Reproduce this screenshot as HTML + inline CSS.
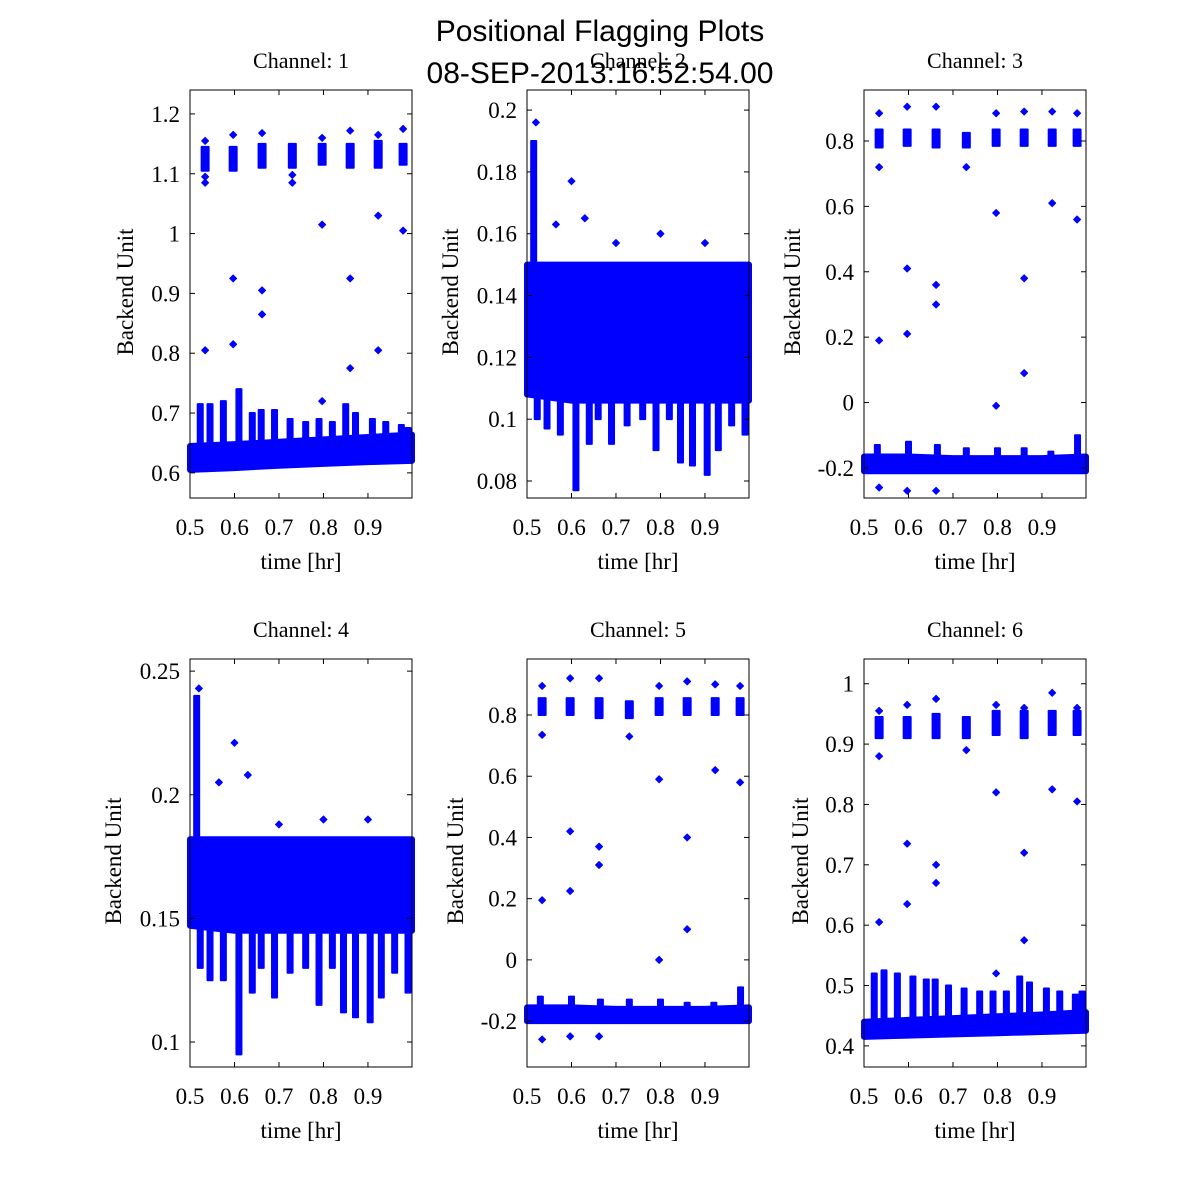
<!DOCTYPE html>
<html><head><meta charset="utf-8"><style>
html,body{margin:0;background:#fff;overflow:hidden;width:1200px;height:1200px;}
svg{display:block;}
svg text{font-family:"Liberation Serif",serif;}
</style></head><body>
<svg id="chart" width="1200" height="1200" viewBox="0 0 1200 1200" xmlns="http://www.w3.org/2000/svg">
<rect width="1200" height="1200" fill="#fff"/>
<text x="600" y="41" text-anchor="middle" font-size="30" style="font-family:'Liberation Sans',sans-serif">Positional Flagging Plots</text>
</svg>
<script>
const xTicks = [0.5, 0.6, 0.7, 0.8, 0.9];
const clusterTimes = [0.534, 0.597, 0.662, 0.730, 0.797, 0.860, 0.923, 0.979];
const bandTimes = [0.5, 0.6, 0.7, 0.8, 0.9, 0.999];

const ch1Low = [0.605, 0.608, 0.612, 0.615, 0.618, 0.620];
const ch1High = [0.645, 0.648, 0.652, 0.656, 0.660, 0.664];
const ch1SpikeT = [0.523,0.545,0.575,0.61,0.64,0.66,0.69,0.725,0.76,0.79,0.82,0.85,0.872,0.91,0.94,0.975,0.99];
const ch1SpikeV = [0.715,0.715,0.72,0.74,0.70,0.705,0.705,0.69,0.685,0.69,0.685,0.715,0.70,0.69,0.685,0.68,0.675];
const ch1ClLow = [1.105,1.105,1.11,1.11,1.115,1.11,1.11,1.115];
const ch1ClHigh = [1.145,1.145,1.15,1.15,1.15,1.15,1.155,1.15];
const ch1OutT = [0.534,0.534,0.534,0.534,0.597,0.597,0.597,0.662,0.662,0.662,0.730,0.730,0.797,0.797,0.797,0.860,0.860,0.860,0.923,0.923,0.923,0.979,0.979];
const ch1OutV = [1.155,1.095,1.085,0.805,1.165,0.925,0.815,1.168,0.905,0.865,1.098,1.085,1.160,1.015,0.720,1.172,0.925,0.775,1.165,1.030,0.805,1.175,1.005];

const ch2Low = [0.108, 0.106, 0.106, 0.106, 0.106, 0.106];
const ch2High = [0.150, 0.150, 0.150, 0.150, 0.150, 0.150];
const ch2SpikeT = [0.515,0.523,0.545,0.575,0.61,0.64,0.66,0.69,0.725,0.76,0.79,0.82,0.845,0.872,0.905,0.93,0.96,0.99];
const ch2SpikeV = [0.190,0.100,0.097,0.095,0.077,0.092,0.100,0.092,0.098,0.100,0.090,0.100,0.086,0.085,0.082,0.090,0.098,0.095];
const ch2OutT = [0.52,0.60,0.565,0.63,0.80,0.70,0.9];
const ch2OutV = [0.196,0.177,0.163,0.165,0.160,0.157,0.157];

const ch3Low = [-0.21,-0.21,-0.21,-0.21,-0.21,-0.21];
const ch3High = [-0.165,-0.165,-0.17,-0.17,-0.17,-0.165];
const ch3SpikeT = [0.53,0.6,0.665,0.73,0.8,0.86,0.92,0.98];
const ch3SpikeV = [-0.13,-0.12,-0.13,-0.14,-0.14,-0.14,-0.15,-0.10];
const ch3ClLow = [0.78,0.785,0.78,0.78,0.785,0.785,0.785,0.785];
const ch3ClHigh = [0.835,0.835,0.835,0.825,0.835,0.835,0.835,0.835];
const ch3OutT = [0.534,0.534,0.534,0.597,0.597,0.597,0.662,0.662,0.662,0.730,0.797,0.797,0.797,0.860,0.860,0.860,0.923,0.923,0.979,0.979,0.534,0.597,0.662];
const ch3OutV = [0.885,0.72,0.19,0.905,0.41,0.21,0.905,0.36,0.30,0.72,0.885,0.58,-0.01,0.89,0.38,0.09,0.89,0.61,0.885,0.56,-0.26,-0.27,-0.27];

const ch4Low = [0.147,0.145,0.145,0.145,0.145,0.145];
const ch4High = [0.182,0.182,0.182,0.182,0.182,0.182];
const ch4SpikeT = [0.515,0.523,0.545,0.575,0.61,0.64,0.66,0.69,0.725,0.76,0.79,0.82,0.845,0.872,0.905,0.93,0.96,0.99];
const ch4SpikeV = [0.240,0.130,0.125,0.125,0.095,0.120,0.130,0.118,0.128,0.130,0.115,0.130,0.112,0.110,0.108,0.118,0.128,0.120];
const ch4OutT = [0.52,0.60,0.565,0.63,0.80,0.70,0.9];
const ch4OutV = [0.243,0.221,0.205,0.208,0.19,0.188,0.19];

const ch5Low = [-0.20,-0.20,-0.20,-0.20,-0.20,-0.20];
const ch5High = [-0.155,-0.155,-0.16,-0.16,-0.16,-0.155];
const ch5SpikeT = [0.53,0.6,0.665,0.73,0.8,0.86,0.92,0.98];
const ch5SpikeV = [-0.12,-0.12,-0.13,-0.13,-0.13,-0.14,-0.14,-0.09];
const ch5ClLow = [0.80,0.80,0.79,0.79,0.80,0.80,0.80,0.80];
const ch5ClHigh = [0.855,0.855,0.855,0.845,0.855,0.855,0.855,0.855];
const ch5OutT = [0.534,0.534,0.534,0.597,0.597,0.597,0.662,0.662,0.662,0.730,0.797,0.797,0.797,0.860,0.860,0.860,0.923,0.923,0.979,0.979,0.534,0.597,0.662];
const ch5OutV = [0.895,0.735,0.195,0.92,0.42,0.225,0.92,0.37,0.31,0.73,0.895,0.59,0.0,0.91,0.40,0.10,0.90,0.62,0.895,0.58,-0.26,-0.25,-0.25];

const ch6Low = [0.415,0.417,0.419,0.421,0.423,0.425];
const ch6High = [0.440,0.443,0.446,0.449,0.452,0.456];
const ch6SpikeT = [0.523,0.545,0.575,0.61,0.64,0.66,0.69,0.725,0.76,0.79,0.82,0.85,0.872,0.91,0.94,0.975,0.99];
const ch6SpikeV = [0.52,0.525,0.52,0.515,0.51,0.51,0.50,0.495,0.49,0.49,0.49,0.515,0.505,0.495,0.49,0.485,0.49];
const ch6ClLow = [0.91,0.91,0.91,0.91,0.915,0.91,0.915,0.915];
const ch6ClHigh = [0.945,0.945,0.95,0.945,0.955,0.955,0.955,0.955];
const ch6OutT = [0.534,0.534,0.534,0.597,0.597,0.597,0.662,0.662,0.662,0.730,0.797,0.797,0.797,0.860,0.860,0.860,0.923,0.923,0.979,0.979];
const ch6OutV = [0.955,0.88,0.605,0.965,0.735,0.635,0.975,0.70,0.67,0.89,0.965,0.82,0.52,0.96,0.72,0.575,0.985,0.825,0.96,0.805];

const yTicks1 = [0.6,0.7,0.8,0.9,1,1.1,1.2];
const yTicks2 = [0.08,0.1,0.12,0.14,0.16,0.18,0.2];
const yTicks3 = [-0.2,0,0.2,0.4,0.6,0.8];
const yTicks4 = [0.1,0.15,0.2,0.25];
const yTicks5 = [-0.2,0,0.2,0.4,0.6,0.8];
const yTicks6 = [0.4,0.5,0.6,0.7,0.8,0.9,1];

const panels = [
 {title:'Channel: 1',x0:190,y0:90,ylim:[0.558,1.24],yt:yTicks1,lo:ch1Low,hi:ch1High,sT:ch1SpikeT,sV:ch1SpikeV,cL:ch1ClLow,cH:ch1ClHigh,oT:ch1OutT,oV:ch1OutV,lbl:115},
 {title:'Channel: 2',x0:527,y0:90,ylim:[0.0745,0.2065],yt:yTicks2,lo:ch2Low,hi:ch2High,sT:ch2SpikeT,sV:ch2SpikeV,cL:null,cH:null,oT:ch2OutT,oV:ch2OutV,lbl:440},
 {title:'Channel: 3',x0:864,y0:90,ylim:[-0.292,0.956],yt:yTicks3,lo:ch3Low,hi:ch3High,sT:ch3SpikeT,sV:ch3SpikeV,cL:ch3ClLow,cH:ch3ClHigh,oT:ch3OutT,oV:ch3OutV,lbl:782},
 {title:'Channel: 4',x0:190,y0:659,ylim:[0.0899,0.2549],yt:yTicks4,lo:ch4Low,hi:ch4High,sT:ch4SpikeT,sV:ch4SpikeV,cL:null,cH:null,oT:ch4OutT,oV:ch4OutV,lbl:103},
 {title:'Channel: 5',x0:527,y0:659,ylim:[-0.35,0.983],yt:yTicks5,lo:ch5Low,hi:ch5High,sT:ch5SpikeT,sV:ch5SpikeV,cL:ch5ClLow,cH:ch5ClHigh,oT:ch5OutT,oV:ch5OutV,lbl:445},
 {title:'Channel: 6',x0:864,y0:659,ylim:[0.365,1.041],yt:yTicks6,lo:ch6Low,hi:ch6High,sT:ch6SpikeT,sV:ch6SpikeV,cL:ch6ClLow,cH:ch6ClHigh,oT:ch6OutT,oV:ch6OutV,lbl:790}
];
const W=222,H=408,XL=[0.5,0.999],BLUE='#0000ff';
const svg=document.getElementById('chart');
const NS='http://www.w3.org/2000/svg';
function mk(tag,attrs,parent){const e=document.createElementNS(NS,tag);for(const k in attrs)e.setAttribute(k,attrs[k]);(parent||svg).appendChild(e);return e;}
function fmt(v){return String(Math.round(v*1000)/1000);}

panels.forEach((p,i)=>{
 const sx=v=>p.x0+(v-XL[0])/(XL[1]-XL[0])*W;
 const sy=v=>p.y0+H-(v-p.ylim[0])/(p.ylim[1]-p.ylim[0])*H;
 const g=mk('g',{});
 
 
 const clip=mk('clipPath',{id:'c'+i},g);mk('rect',{x:p.x0-4,y:p.y0,width:W+8,height:H},clip);
 const data=mk('g',{'clip-path':'url(#c'+i+')',fill:BLUE,stroke:BLUE,'stroke-linejoin':'round'},g);
 
 
 let d='M'+bandTimes.map((t,k)=>sx(t)+','+sy(p.hi[k])).join('L');
 for(let k=bandTimes.length-1;k>=0;k--)d+='L'+sx(bandTimes[k])+','+sy(p.lo[k]);
 const band=mk('path',{d:d+'Z','stroke-width':6},data);
 
 
 p.sT.forEach((t,k)=>{
  const j=Math.min(bandTimes.length-2,Math.floor((t-0.5)/0.1));
  const f=(t-bandTimes[j])/(bandTimes[j+1]-bandTimes[j]);
  const mid=(p.lo[j]+(p.lo[j+1]-p.lo[j])*f+p.hi[j]+(p.hi[j+1]-p.hi[j])*f)/2;
  const a=sy(mid),b=sy(p.sV[k]);
  const r=mk('rect',{x:sx(t)-2.5,y:Math.min(a,b),width:5,height:Math.abs(a-b),'stroke-width':2},data);
  
  
 });
 if(p.cL){clusterTimes.forEach((t,k)=>{
  const r=mk('rect',{x:sx(t)-3.5,y:sy(p.cH[k]),width:7,height:sy(p.cL[k])-sy(p.cH[k]),'stroke-width':2},data);
  
  
 });}
 p.oT.forEach((t,k)=>{
  const x=sx(t),y=sy(p.oV[k]);
  const pt=mk('path',{d:`M${x-3.5},${y}L${x},${y-3.5}L${x+3.5},${y}L${x},${y+3.5}Z`,'stroke-width':1},data);
  
  
 });
 const box=mk('rect',{x:p.x0,y:p.y0,width:W,height:H,fill:'none',stroke:'#000','stroke-width':1},g);
 
 
 xTicks.forEach(v=>{
  const x=sx(v);
  mk('line',{x1:x,x2:x,y1:p.y0+H,y2:p.y0+H-5,stroke:'#000'},g);
  mk('line',{x1:x,x2:x,y1:p.y0,y2:p.y0+5,stroke:'#000'},g);
  const t=mk('text',{x:x,y:p.y0+H+37,'text-anchor':'middle','font-size':23},g);t.textContent=fmt(v);
  
  
 });
 p.yt.forEach(v=>{
  const y=sy(v);
  mk('line',{x1:p.x0,x2:p.x0+5,y1:y,y2:y,stroke:'#000'},g);
  mk('line',{x1:p.x0+W,x2:p.x0+W-5,y1:y,y2:y,stroke:'#000'},g);
  const t=mk('text',{x:p.x0-10,y:y+8,'text-anchor':'end','font-size':23},g);t.textContent=fmt(v);
  
  
 });
 const tt=mk('text',{x:p.x0+W/2,y:p.y0-22,'text-anchor':'middle','font-size':22},g);tt.textContent=p.title;
 
 
 const xl=mk('text',{x:p.x0+W/2,y:p.y0+H+71,'text-anchor':'middle','font-size':23},g);xl.textContent='time [hr]';
 
 
 const yl=mk('text',{x:0,y:0,'text-anchor':'middle','font-size':23,transform:`translate(${p.lbl+18},${p.y0+H/2-2}) rotate(-90)`},g);yl.textContent='Backend Unit';
 
 
});
const sub=mk('text',{x:600,y:83,'text-anchor':'middle','font-size':30,style:"font-family:'Liberation Sans',sans-serif"});
sub.textContent='08-SEP-2013:16:52:54.00';


</script>
</body></html>
